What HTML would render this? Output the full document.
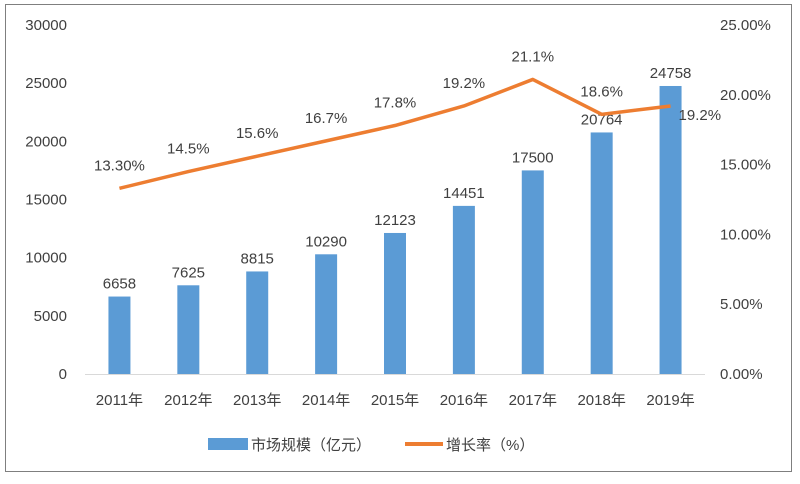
<!DOCTYPE html>
<html><head><meta charset="utf-8"><style>
body{margin:0;background:#fff;}
svg text{font-family:"Liberation Sans","Noto Sans CJK SC",sans-serif;fill:#404040;}
</style></head><body>
<svg width="800" height="479">
<rect x="5.5" y="4.5" width="786" height="467" fill="#fff" stroke="#7f7f7f"/>
<g id="g"></g>
<g>
<rect x="208" y="438" width="40" height="12" fill="#5b9bd5"/>
<text x="251" y="450" font-size="15">市场规模（亿元）</text>
<line x1="405" y1="444" x2="443" y2="444" stroke="#ed7d31" stroke-width="4"/>
<text x="446" y="450" font-size="15">增长率（%）</text>
</g>
</svg>
<script>
const categories=["2011年","2012年","2013年","2014年","2015年","2016年","2017年","2018年","2019年"];
const marketSize=[6658,7625,8815,10290,12123,14451,17500,20764,24758];
const growth=[13.3,14.5,15.6,16.7,17.8,19.2,21.1,18.6,19.2];
const growthLabels=["13.30%","14.5%","15.6%","16.7%","17.8%","19.2%","21.1%","18.6%","19.2%"];
const leftTicks=[0,5000,10000,15000,20000,25000,30000];
const rightTicks=[0,5,10,15,20,25];
const NS="http://www.w3.org/2000/svg";
const g=document.getElementById('g');
const x0=85,x1=705,yTop=25,yBot=374;
const yL=v=>yBot-(v/30000)*(yBot-yTop);
const yR=v=>yBot-(v/25)*(yBot-yTop);
const bw=(x1-x0)/categories.length;
const xC=i=>x0+bw*(i+0.5);
function el(t,a,txt){const e=document.createElementNS(NS,t);for(const k in a)e.setAttribute(k,a[k]);if(txt!==undefined)e.textContent=txt;g.appendChild(e);return e;}
leftTicks.forEach(v=>{const e=el('text',{x:67,y:yL(v)+5,'font-size':15,'text-anchor':'end'},String(v));

});
rightTicks.forEach(v=>{const e=el('text',{x:720,y:yR(v)+5,'font-size':15},v.toFixed(2)+'%');

});
const ax=el('line',{x1:x0,y1:yBot+0.5,x2:x1,y2:yBot+0.5,stroke:'#d9d9d9','stroke-width':1});


categories.forEach((c,i)=>{
const r=el('rect',{x:xC(i)-11,y:yL(marketSize[i]),width:22,height:yBot-yL(marketSize[i]),fill:'#5b9bd5'});


const t=el('text',{x:xC(i),y:yL(marketSize[i])-8,'font-size':15,'text-anchor':'middle'},String(marketSize[i]));


const xl=el('text',{x:xC(i),y:405,'font-size':15,'text-anchor':'middle'},c);


});
const pts=growth.map((v,i)=>xC(i)+','+yR(v)).join(' ');
const pl=el('polyline',{points:pts,fill:'none',stroke:'#ed7d31','stroke-width':3.5,'stroke-linejoin':'round'});


growth.forEach((v,i)=>{
const last=i===growth.length-1;
const t=el('text',{x:last?xC(i)+8:xC(i),y:last?yR(v)+14:yR(v)-18,'font-size':15,'text-anchor':last?'start':'middle'},growthLabels[i]);


});
</script>
</body></html>
